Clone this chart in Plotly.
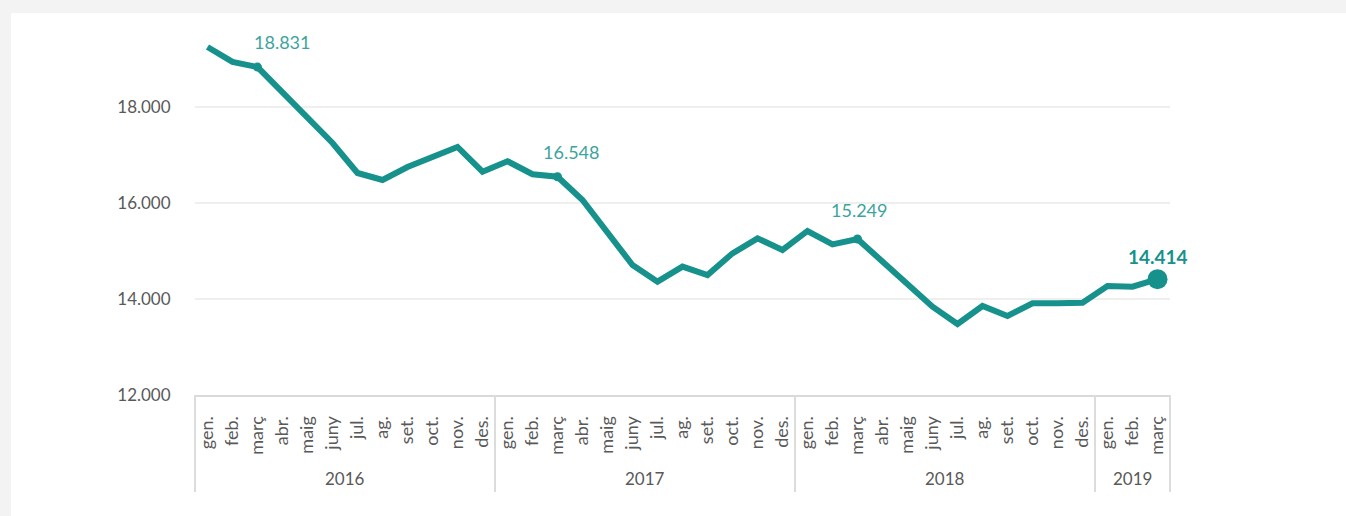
import plotly.graph_objects as go

months = ['gen.', 'feb.', 'març', 'abr.', 'maig', 'juny', 'jul.', 'ag.', 'set.', 'oct.', 'nov.', 'des.']
years = ['2016', '2017', '2018', '2019']
values_2016 = [19250, 18940, 18831, 18290, 17770, 17250, 16625, 16480, 16750, 16960, 17167, 16653]
values_2017 = [16870, 16600, 16548, 16062, 15375, 14708, 14361, 14674, 14500, 14951, 15264, 15021]
values_2018 = [15417, 15139, 15249, 14771, 14312, 13840, 13479, 13854, 13646, 13910, 13910, 13924]
values_2019 = [14271, 14257, 14414]
y_ticks = [12000, 14000, 16000, 18000]

series = [values_2016, values_2017, values_2018, values_2019]
keys, month_lvl, vals, year_start, year_len = [], [], [], [], []
for yr, sv in zip(years, series):
    year_start.append(len(vals))
    year_len.append(len(sv))
    for i, v in enumerate(sv):
        keys.append(f"{months[i]} {yr}")
        month_lvl.append(months[i])
        vals.append(v)
N = len(vals)

LINE = '#17918c'
LABEL = '#3da39e'
FONT = 'Lato, sans-serif'
GREY = '#595959'

def fmt(v):
    return f"{v:,}".replace(',', '.')

fig = go.Figure()
fig.add_trace(go.Scatter(
    x=keys, y=vals, mode='lines',
    line=dict(color=LINE, width=6), hoverinfo='skip'))

hl_idx = [i for i, m in enumerate(month_lvl) if m == 'març']
last = hl_idx[-1]
small = hl_idx[:-1]
fig.add_trace(go.Scatter(
    x=[keys[i] for i in small], y=[vals[i] for i in small], mode='markers',
    marker=dict(color=LINE, size=9), hoverinfo='skip'))
fig.add_trace(go.Scatter(
    x=[keys[last]], y=[vals[last]], mode='markers',
    marker=dict(color=LINE, size=20), hoverinfo='skip'))

shifts = [(24, 25), (13, 25), (1, 29)]
for i, (dx, dy) in zip(small, shifts):
    fig.add_annotation(x=keys[i], y=vals[i], text=fmt(vals[i]), showarrow=False,
                       xshift=dx, yshift=dy,
                       font=dict(family=FONT, size=18, color=LABEL))
fig.add_annotation(x=keys[last], y=vals[last], text='<b>' + fmt(vals[last]) + '</b>',
                   showarrow=False, xshift=0, yshift=23,
                   font=dict(family=FONT, size=19, color=LINE))

W, H = 1346, 516
L, R, T, B = 195, 176, 35, 121
pw, ph = W - L - R, H - T - B
def px(p): return (p - L) / pw
def py(q): return (H - B - q) / ph

# white card
fig.add_shape(type='rect', xref='paper', yref='paper', layer='below',
              x0=px(11), x1=px(W + 5), y0=py(H + 5), y1=py(13),
              fillcolor='white', line=dict(width=0))

# year group labels and dividers
div_bottom = py(492)
for yr, s, n in zip(years, year_start, year_len):
    fig.add_annotation(x=(s + (s + n)) / 2 / N, xref='paper', y=0, yref='paper',
                       xanchor='center', yanchor='middle',
                       yshift=-83, text=yr, showarrow=False,
                       font=dict(family=FONT, size=17, color=GREY))
bounds = year_start + [N]
for b in bounds:
    fig.add_shape(type='line', xref='paper', yref='paper',
                  x0=b / N, x1=b / N, y0=0, y1=div_bottom,
                  line=dict(color='#dcdcdc', width=2))

fig.update_layout(
    width=W, height=H,
    margin=dict(l=L, r=R, t=T, b=B),
    paper_bgcolor='#f3f3f3', plot_bgcolor='white',
    showlegend=False, separators=',.',
    font=dict(family=FONT, color=GREY),
)
fig.update_xaxes(
    type='category', tickmode='array', tickvals=keys, ticktext=month_lvl,
    tickangle=-90, range=[-0.5, N - 0.5],
    tickfont=dict(size=18, color=GREY),
    showline=True, linecolor='#d9d9d9', linewidth=2,
    showgrid=False, ticks='outside', ticklen=8, tickcolor='rgba(255,255,255,0)',
    ticklabelstandoff=4,
)
fig.update_yaxes(
    range=[12000, 19500], tickvals=y_ticks, tickformat=',d',
    tickfont=dict(size=17, color=GREY),
    showgrid=True, gridcolor='#efefef', gridwidth=2,
    zeroline=False, showline=False,
    ticks='outside', ticklen=20, tickcolor='rgba(0,0,0,0)',
)

fig.write_html('out.html', config={'displayModeBar': False},
               post_script="document.body.style.margin='0';document.body.style.background='#f3f3f3';")
